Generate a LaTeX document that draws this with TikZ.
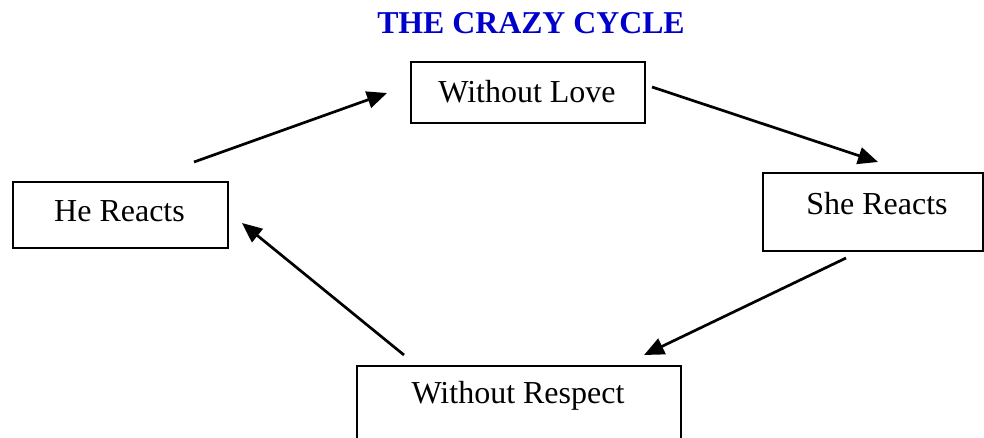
\documentclass[tikz,border=0pt]{standalone}
\usepackage{fontspec}
\setmainfont{Liberation Serif}
\usetikzlibrary{arrows.meta}
\definecolor{titleblue}{RGB}{0,0,204}
\tikzset{
  boxframe/.style={draw=black, line width=2pt, rectangle, inner sep=0pt, anchor=north west},
  boxtext/.style={font=\fontsize{32}{38}\selectfont, inner sep=0pt},
  cyclearrow/.style={line width=2.7pt, -{Triangle[length=20pt,width=17pt]}},
}
\begin{document}
\begin{tikzpicture}[x=1pt,y=-1pt]
\useasboundingbox (0,0) rectangle (984,437);
% title
\node[font=\fontsize{31.8}{38}\bfseries\selectfont, text=titleblue, inner sep=0pt] (title) at (531,23) {THE CRAZY CYCLE};
% boxes
\node[boxframe, minimum width=234pt, minimum height=61pt] (love) at (410,61) {};
\node[boxtext] (lovet) at (527,92) {Without Love};
\node[boxframe, minimum width=215pt, minimum height=66pt] (he) at (12,181) {};
\node[boxtext] (het) at (119.5,211) {He Reacts};
\node[boxframe, minimum width=220pt, minimum height=78pt] (she) at (762,172) {};
\node[boxtext] (shet) at (877,204) {She Reacts};
\node[boxframe, minimum width=324pt, minimum height=90pt] (resp) at (356,365) {};
\node[boxtext] (respt) at (518,396) {Without Respect};
% arrow endpoints
\coordinate (a1s) at (194,162);
\coordinate (a1e) at (387,93);
\coordinate (a2s) at (652,87);
\coordinate (a2e) at (878,162);
\coordinate (a3s) at (846,258);
\coordinate (a3e) at (644,355);
\coordinate (a4s) at (404,355);
\coordinate (a4e) at (242,223);
\draw[cyclearrow] (a1s) -- (a1e);
\draw[cyclearrow] (a2s) -- (a2e);
\draw[cyclearrow] (a3s) -- (a3e);
\draw[cyclearrow] (a4s) -- (a4e);
\end{tikzpicture}
\end{document}
